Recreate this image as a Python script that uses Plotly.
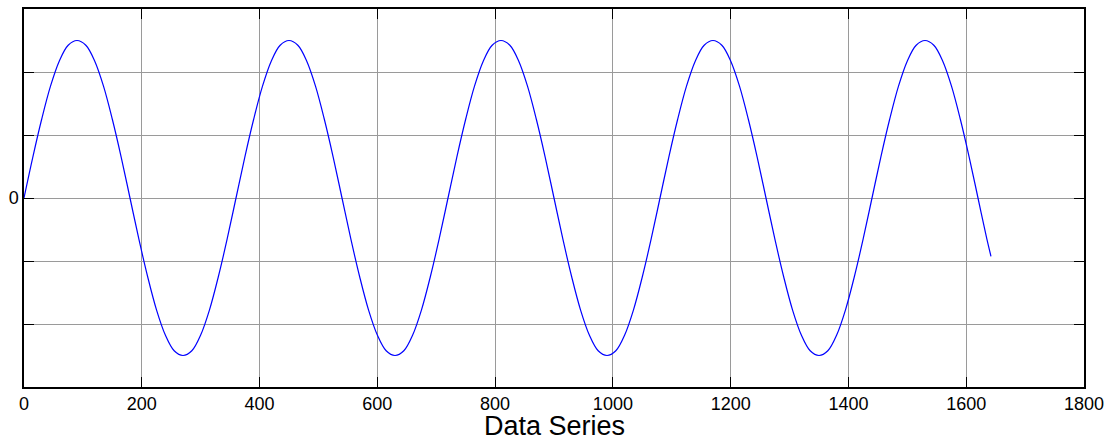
import plotly.graph_objects as go

# Sampled signal: one reading every 15 samples, plus the final sample
sample_index = [
    0, 15, 30, 45, 60, 75, 90, 105, 120, 135, 150, 165,
    180, 195, 210, 225, 240, 255, 270, 285, 300, 315, 330, 345,
    360, 375, 390, 405, 420, 435, 450, 465, 480, 495, 510, 525,
    540, 555, 570, 585, 600, 615, 630, 645, 660, 675, 690, 705,
    720, 735, 750, 765, 780, 795, 810, 825, 840, 855, 870, 885,
    900, 915, 930, 945, 960, 975, 990, 1005, 1020, 1035, 1050, 1065,
    1080, 1095, 1110, 1125, 1140, 1155, 1170, 1185, 1200, 1215, 1230, 1245,
    1260, 1275, 1290, 1305, 1320, 1335, 1350, 1365, 1380, 1395, 1410, 1425,
    1440, 1455, 1470, 1485, 1500, 1515, 1530, 1545, 1560, 1575, 1590, 1605,
    1620, 1635, 1642,
]
signal = [
    0.0, 0.26, 0.5, 0.71, 0.87, 0.97, 1.0, 0.97, 0.87, 0.71, 0.5, 0.26,
    0.0, -0.26, -0.5, -0.71, -0.87, -0.97, -1.0, -0.97, -0.87, -0.71, -0.5, -0.26,
    0.0, 0.26, 0.5, 0.71, 0.87, 0.97, 1.0, 0.97, 0.87, 0.71, 0.5, 0.26,
    0.0, -0.26, -0.5, -0.71, -0.87, -0.97, -1.0, -0.97, -0.87, -0.71, -0.5, -0.26,
    0.0, 0.26, 0.5, 0.71, 0.87, 0.97, 1.0, 0.97, 0.87, 0.71, 0.5, 0.26,
    0.0, -0.26, -0.5, -0.71, -0.87, -0.97, -1.0, -0.97, -0.87, -0.71, -0.5, -0.26,
    0.0, 0.26, 0.5, 0.71, 0.87, 0.97, 1.0, 0.97, 0.87, 0.71, 0.5, 0.26,
    0.0, -0.26, -0.5, -0.71, -0.87, -0.97, -1.0, -0.97, -0.87, -0.71, -0.5, -0.26,
    0.0, 0.26, 0.5, 0.71, 0.87, 0.97, 1.0, 0.97, 0.87, 0.71, 0.5, 0.26,
    0.0, -0.26, -0.37,
]

x_ticks = [0, 200, 400, 600, 800, 1000, 1200, 1400, 1600, 1800]
y_ticks = [-0.8, -0.4, 0, 0.4, 0.8]
y_tick_text = ["", "", "0", "", ""]
x_title = "Data Series"

font_family = "Arial, Liberation Sans, Helvetica, sans-serif"

fig = go.Figure()
fig.add_trace(go.Scatter(
    x=sample_index,
    y=signal,
    mode="lines",
    line=dict(color="#0000ff", width=1.2, shape="spline", smoothing=1.0),
    showlegend=False,
))

axis_common = dict(
    automargin=False,
    showline=True,
    linecolor="black",
    linewidth=1.5,
    mirror="ticks",
    ticks="inside",
    ticklen=10,
    tickwidth=1,
    tickcolor="black",
    showgrid=True,
    gridcolor="#9a9a9a",
    gridwidth=1,
    zeroline=False,
    tickfont=dict(family=font_family, size=18, color="black"),
)

fig.update_xaxes(
    range=[0, 1800],
    tickvals=x_ticks,
    ticktext=[str(v) for v in x_ticks],
    **axis_common,
)
fig.update_yaxes(
    range=[-1.2, 1.2],
    tickvals=y_ticks,
    ticktext=y_tick_text,
    **axis_common,
)

# Axis title placed as a paper-anchored label under the tick labels
fig.add_annotation(
    text=x_title,
    xref="paper", yref="paper",
    x=0.5, y=-0.104,
    xanchor="center", yanchor="middle",
    showarrow=False,
    borderpad=0,
    font=dict(family=font_family, size=27, color="black"),
)

fig.update_layout(
    width=1113,
    height=439,
    margin=dict(l=24, r=29, t=9, b=52),
    paper_bgcolor="white",
    plot_bgcolor="white",
    font=dict(family=font_family, color="black"),
)

fig.write_html("out.html")
